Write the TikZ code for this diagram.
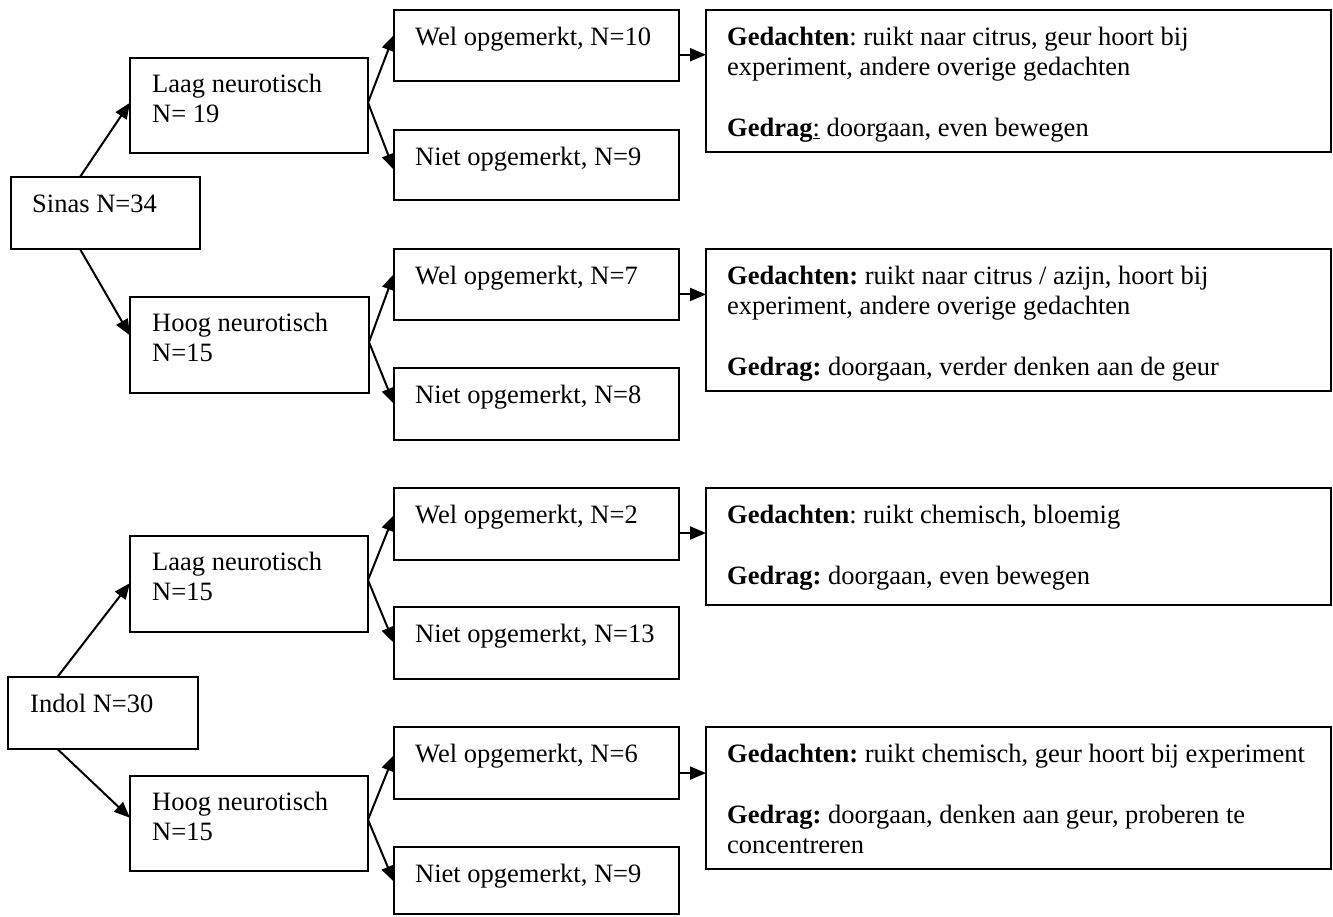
\documentclass[tikz,border=0pt]{standalone}
\usepackage{fontspec}
\setmainfont{Liberation Serif}
\usetikzlibrary{arrows.meta,calc}
\newcommand\tlines[1]{\begin{tabular}[t]{@{}l@{}}#1\end{tabular}}
\frenchspacing
\begin{document}
\begin{tikzpicture}[x=1pt,y=-1pt,
  box/.style n args={2}{draw, line width=2pt, anchor=north west, inner sep=0pt, outer sep=0pt, minimum width=#1pt, minimum height=#2pt},
  txt/.style={anchor=base west, inner sep=0pt, font=\fontsize{26.5pt}{30.5pt}\selectfont\frenchspacing},
  arr/.style={line width=2pt, -{Triangle[length=16pt,width=13pt]}}]
\useasboundingbox (0,0) rectangle (1333,916);

% ---------- boxes: Sinas group
\node[box={189}{72}] (sinas) at (11,177) {};
\node[box={238}{95}] (l1) at (130,58) {};
\node[box={239}{96}] (h1) at (130,297) {};
\node[box={285}{71}] (w1) at (394,10) {};
\node[box={285}{70}] (n1) at (394,130) {};
\node[box={285}{71}] (w2) at (394,249) {};
\node[box={285}{72}] (n2) at (394,368) {};
\node[box={625}{142}] (g1) at (706,10) {};
\node[box={625}{142}] (g2) at (706,249) {};

% ---------- boxes: Indol group
\node[box={190}{72}] (indol) at (8,677) {};
\node[box={238}{96}] (l2) at (130,536) {};
\node[box={238}{95}] (h2) at (130,776) {};
\node[box={285}{72}] (w3) at (394,488) {};
\node[box={285}{72}] (n3) at (394,607) {};
\node[box={285}{72}] (w4) at (394,727) {};
\node[box={285}{67}] (n4) at (394,847) {};
\node[box={625}{117}] (g3) at (706,488) {};
\node[box={625}{142}] (g4) at (706,727) {};

% ---------- texts
\node[txt] (t-sinas) at ([xshift=21pt,yshift=-35pt]sinas.north west) {\tlines{Sinas N=34}};
\node[txt] (t-l1) at ([xshift=22pt,yshift=-34pt]l1.north west) {\tlines{Laag neurotisch\\N= 19}};
\node[txt] (t-h1) at ([xshift=22pt,yshift=-34pt]h1.north west) {\tlines{Hoog neurotisch\\N=15}};
\node[txt] (t-w1) at ([xshift=21pt,yshift=-35pt]w1.north west) {\tlines{Wel opgemerkt, N=10}};
\node[txt] (t-n1) at ([xshift=21pt,yshift=-35pt]n1.north west) {\tlines{Niet opgemerkt, N=9}};
\node[txt] (t-w2) at ([xshift=21pt,yshift=-35pt]w2.north west) {\tlines{Wel opgemerkt, N=7}};
\node[txt] (t-n2) at ([xshift=21pt,yshift=-35pt]n2.north west) {\tlines{Niet opgemerkt, N=8}};
\node[txt] (t-g1) at ([xshift=21pt,yshift=-35pt]g1.north west) {\tlines{\textbf{Gedachten}: ruikt naar citrus, geur hoort bij\\experiment, andere overige gedachten\\[30.5pt]\textbf{Gedrag}\underline{:} doorgaan, even bewegen}};
\node[txt] (t-g2) at ([xshift=21pt,yshift=-35pt]g2.north west) {\tlines{\textbf{Gedachten:} ruikt naar citrus / azijn, hoort bij\\experiment, andere overige gedachten\\[30.5pt]\textbf{Gedrag:} doorgaan, verder denken aan de geur}};

\node[txt] (t-indol) at ([xshift=22pt,yshift=-35pt]indol.north west) {\tlines{Indol N=30}};
\node[txt] (t-l2) at ([xshift=22pt,yshift=-34pt]l2.north west) {\tlines{Laag neurotisch\\N=15}};
\node[txt] (t-h2) at ([xshift=22pt,yshift=-34pt]h2.north west) {\tlines{Hoog neurotisch\\N=15}};
\node[txt] (t-w3) at ([xshift=21pt,yshift=-35pt]w3.north west) {\tlines{Wel opgemerkt, N=2}};
\node[txt] (t-n3) at ([xshift=21pt,yshift=-35pt]n3.north west) {\tlines{Niet opgemerkt, N=13}};
\node[txt] (t-w4) at ([xshift=21pt,yshift=-35pt]w4.north west) {\tlines{Wel opgemerkt, N=6}};
\node[txt] (t-n4) at ([xshift=21pt,yshift=-35pt]n4.north west) {\tlines{Niet opgemerkt, N=9}};
\node[txt] (t-g3) at ([xshift=21pt,yshift=-35pt]g3.north west) {\tlines{\textbf{Gedachten}: ruikt chemisch, bloemig\\[30.5pt]\textbf{Gedrag:} doorgaan, even bewegen}};
\node[txt] (t-g4) at ([xshift=21pt,yshift=-35pt]g4.north west) {\tlines{\textbf{Gedachten:} ruikt chemisch, geur hoort bij experiment\\[30.5pt]\textbf{Gedrag:} doorgaan, denken aan geur, proberen te\\concentreren}};

% ---------- connectors: Sinas group
\coordinate (s-top) at ($(sinas.north west)!0.365!(sinas.north east)$);
\coordinate (s-bot) at ($(sinas.south west)!0.365!(sinas.south east)$);
\draw[arr] (s-top) -- ($(l1.north west)!0.47!(l1.south west)$);
\draw[arr] (s-bot) -- ($(h1.north west)!0.40!(h1.south west)$);
\coordinate (f1) at ($(l1.north east)!0.47!(l1.south east)$);
\draw[arr] (f1) -- ($(w1.north west)!0.35!(w1.south west)$);
\draw[arr] (f1) -- ($(n1.north west)!0.57!(n1.south west)$);
\coordinate (f2) at ($(h1.north east)!0.47!(h1.south east)$);
\draw[arr] (f2) -- ($(w2.north west)!0.35!(w2.south west)$);
\draw[arr] (f2) -- ($(n2.north west)!0.50!(n2.south west)$);
\coordinate (a1) at ($(w1.north east)!0.63!(w1.south east)$);
\draw[arr] (a1) -- (a1 -| g1.west);
\coordinate (a2) at ($(w2.north east)!0.64!(w2.south east)$);
\draw[arr] (a2) -- (a2 -| g2.west);

% ---------- connectors: Indol group
\coordinate (i-top) at ($(indol.north west)!0.26!(indol.north east)$);
\coordinate (i-bot) at ($(indol.south west)!0.26!(indol.south east)$);
\draw[arr] (i-top) -- ($(l2.north west)!0.49!(l2.south west)$);
\draw[arr] (i-bot) -- ($(h2.north west)!0.44!(h2.south west)$);
\coordinate (f3) at ($(l2.north east)!0.46!(l2.south east)$);
\draw[arr] (f3) -- ($(w3.north west)!0.375!(w3.south west)$);
\draw[arr] (f3) -- ($(n3.north west)!0.50!(n3.south west)$);
\coordinate (f4) at ($(h2.north east)!0.46!(h2.south east)$);
\draw[arr] (f4) -- ($(w4.north west)!0.39!(w4.south west)$);
\draw[arr] (f4) -- ($(n4.north west)!0.52!(n4.south west)$);
\coordinate (a3) at ($(w3.north east)!0.625!(w3.south east)$);
\draw[arr] (a3) -- (a3 -| g3.west);
\coordinate (a4) at ($(w4.north east)!0.64!(w4.south east)$);
\draw[arr] (a4) -- (a4 -| g4.west);
\end{tikzpicture}
\end{document}
